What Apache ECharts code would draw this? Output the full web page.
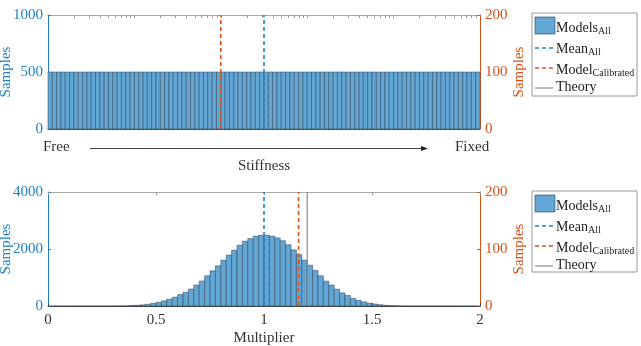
<!DOCTYPE html>
<html>
<head>
<meta charset="utf-8">
<script src="https://cdn.jsdelivr.net/npm/echarts@6/dist/echarts.min.js"></script>
<style>
  html, body {margin: 0; padding: 0; background: #fff;}
  #chart {width: 641px; height: 346px;}
</style>
</head>
<body>
<div id="chart"></div>
<script>
// top panel: 100 stiffness bins, uniform sampling
const stiffnessCounts = [
  500, 500, 500, 500, 500, 500, 500, 500, 500, 500,
  500, 500, 500, 500, 500, 500, 500, 500, 500, 500,
  500, 500, 500, 500, 500, 500, 500, 500, 500, 500,
  500, 500, 500, 500, 500, 500, 500, 500, 500, 500,
  500, 500, 500, 500, 500, 500, 500, 500, 500, 500,
  500, 500, 500, 500, 500, 500, 500, 500, 500, 500,
  500, 500, 500, 500, 500, 500, 500, 500, 500, 500,
  500, 500, 500, 500, 500, 500, 500, 500, 500, 500,
  500, 500, 500, 500, 500, 500, 500, 500, 500, 500,
  500, 500, 500, 500, 500, 500, 500, 500, 500, 500
];
const stiffnessMean = 50;
const stiffnessCalibrated = 40;
// log-spaced minor ticks along the top edge of the upper panel
const stiffnessTopTicks = [
  2, 3, 4, 5, 6, 7, 8, 9, 10,
  20, 30, 40, 50, 60, 70, 80, 90, 100,
  200, 300, 400, 500, 600, 700, 800, 900, 1000,
  2000, 3000, 4000, 5000, 6000, 7000, 8000, 9000, 10000,
  20000, 30000, 40000, 50000, 60000, 70000, 80000, 90000
];

// bottom panel: multiplier histogram, bins of 0.025 from 0 to 2
const multiplierBinWidth = 0.025;
const multiplierCounts = [
  0, 0, 0, 0, 0, 0, 0, 0, 0, 0,
  0, 0, 2, 4, 8, 15, 25, 40, 60, 90,
  130, 180, 240, 310, 400, 480, 595, 735, 875, 1060,
  1236, 1411, 1609, 1784, 1959, 2134, 2274, 2367, 2450, 2484,
  2484, 2450, 2390, 2290, 2150, 1970, 1800, 1610, 1430, 1250,
  1060, 870, 735, 590, 460, 370, 270, 200, 145, 100,
  70, 45, 25, 14, 7, 3, 1, 0, 0, 0,
  0, 0, 0, 0, 0, 0, 0, 0, 0, 0
];
const multiplierMean = 1.0;
const multiplierCalibrated = 1.16;
const multiplierTheory = 1.2;

const BLUE = '#1f7fc4';
const ORANGE = '#D95319';
const BAR_FILL = '#62a6d5';
const BAR_EDGE = '#2c3e50';
const FONT = 'Liberation Serif';

const chart = echarts.init(document.getElementById('chart'), null, {renderer: 'canvas'});

const histItem = (params, api) => {
  const a = api.coord([api.value(0), api.value(2)]);
  const b = api.coord([api.value(1), 0]);
  return {
    type: 'rect',
    shape: {x: a[0], y: a[1], width: b[0] - a[0], height: b[1] - a[1]},
    style: {fill: BAR_FILL, stroke: BAR_EDGE, lineWidth: 0.5}
  };
};

const vline = (x, top, color, dashed, xi, yi) => ({
  type: 'line',
  xAxisIndex: xi,
  yAxisIndex: yi,
  data: [[x, 0], [x, top]],
  symbol: 'none',
  silent: true,
  z: 5,
  lineStyle: {color, width: dashed ? 1.6 : 1.2, type: dashed ? [4, 3] : 'solid'}
});

const leftAxis = (grid, max, interval) => ({
  type: 'value', gridIndex: grid, position: 'left', min: 0, max, interval,
  name: 'Samples', nameLocation: 'middle', nameGap: 34, nameMoveOverlap: false,
  nameTextStyle: {color: BLUE, fontFamily: FONT, fontSize: 15},
  axisLine: {show: true, onZero: false, lineStyle: {color: BLUE}},
  axisTick: {show: true, inside: true, length: 3, lineStyle: {color: BLUE}},
  axisLabel: {color: BLUE, fontFamily: FONT, fontSize: 15, margin: 5, formatter: v => String(v)},
  splitLine: {show: false}
});

const rightAxis = (grid) => ({
  type: 'value', gridIndex: grid, position: 'right', min: 0, max: 200, interval: 100,
  name: 'Samples', nameLocation: 'middle', nameGap: 32, nameMoveOverlap: false,
  nameTextStyle: {color: ORANGE, fontFamily: FONT, fontSize: 15},
  axisLine: {show: true, onZero: false, lineStyle: {color: ORANGE}},
  axisTick: {show: true, inside: true, length: 3, lineStyle: {color: ORANGE}},
  axisLabel: {color: ORANGE, fontFamily: FONT, fontSize: 15, margin: 5, formatter: v => String(v)},
  splitLine: {show: false}
});

const legendGroup = (top, h) => {
  const x = 532;
  const txt = (dy, rich) => ({
    type: 'text', left: x + 24, top: top + dy,
    style: {
      text: rich,
      fontFamily: FONT,
      rich: {
        m: {fontFamily: FONT, fontSize: 14, lineHeight: 15, verticalAlign: 'top', fill: '#222'},
        s: {fontFamily: FONT, fontSize: 10, lineHeight: 10, padding: [10, 0, 0, 0], verticalAlign: 'bottom', fill: '#222'}
      }
    }
  });
  const seg = (cy, color, dash) => ({
    type: 'line', shape: {x1: x + 3, y1: top + cy, x2: x + 21, y2: top + cy},
    style: {stroke: color, lineWidth: dash ? 1.6 : 1.2, lineDash: dash ? [4, 3] : null}
  });
  return [
    {type: 'rect', shape: {x: x, y: top, width: 105, height: h},
      style: {fill: '#fff', stroke: '#9a9a9a', lineWidth: 1}},
    {type: 'rect', shape: {x: x + 3, y: top + 4, width: 20, height: 17},
      style: {fill: BAR_FILL, stroke: BAR_EDGE, lineWidth: 0.6}},
    txt(3, '{m|Models}{s|All}'),
    seg(35, BLUE, true),
    txt(24, '{m|Mean}{s|All}'),
    seg(55, ORANGE, true),
    txt(45, '{m|Model}{s|Calibrated}'),
    seg(75, '#8c8c8c', false),
    txt(67, '{m|Theory}')
  ];
};

chart.setOption({
  animation: false,
  textStyle: {fontFamily: FONT},
  grid: [
    {left: 48, top: 15, width: 432, height: 114, containLabel: false, outerBoundsMode: 'none'},
    {left: 48, top: 192, width: 432, height: 114, containLabel: false, outerBoundsMode: 'none'}
  ],
  xAxis: [
    {
      type: 'value', gridIndex: 0, min: 0, max: stiffnessCounts.length,
      name: 'Stiffness', nameLocation: 'middle', nameGap: 30, nameMoveOverlap: false,
      nameTextStyle: {color: '#333', fontFamily: FONT, fontSize: 15},
      axisLine: {show: true, onZero: false, lineStyle: {color: '#555'}},
      axisTick: {show: false}, axisLabel: {show: false}, splitLine: {show: false}
    },
    {
      type: 'log', gridIndex: 0, position: 'top', min: 1, max: 100000, logBase: 10,
      axisLine: {show: true, onZero: false, lineStyle: {color: '#aaa'}},
      axisTick: {show: true, inside: true, length: 3, customValues: stiffnessTopTicks, lineStyle: {color: '#999'}},
      axisLabel: {show: false}, splitLine: {show: false}
    },
    {
      type: 'value', gridIndex: 1, min: 0, max: 2, interval: 0.5,
      name: 'Multiplier', nameLocation: 'middle', nameGap: 25, nameMoveOverlap: false,
      nameTextStyle: {color: '#333', fontFamily: FONT, fontSize: 15},
      axisLine: {show: true, onZero: false, lineStyle: {color: '#444'}},
      axisTick: {show: true, inside: true, length: 3, lineStyle: {color: '#444'}},
      axisLabel: {color: '#333', fontFamily: FONT, fontSize: 15, margin: 7},
      splitLine: {show: false}
    },
    {
      type: 'value', gridIndex: 1, position: 'top', min: 0, max: 2, interval: 0.5,
      axisLine: {show: true, onZero: false, lineStyle: {color: '#aaa'}},
      axisTick: {show: true, inside: true, length: 3, lineStyle: {color: '#999'}},
      axisLabel: {show: false}, splitLine: {show: false}
    }
  ],
  yAxis: [
    leftAxis(0, 1000, 500),
    rightAxis(0),
    leftAxis(1, 4000, 2000),
    rightAxis(1)
  ],
  series: [
    {
      type: 'custom', xAxisIndex: 0, yAxisIndex: 0,
      renderItem: histItem, encode: {x: [0, 1], y: 2},
      data: stiffnessCounts.map((c, i) => [i, i + 1, c])
    },
    vline(stiffnessCalibrated, 1000, ORANGE, true, 0, 0),
    vline(stiffnessMean, 1000, BLUE, true, 0, 0),
    {
      type: 'custom', xAxisIndex: 2, yAxisIndex: 2,
      renderItem: histItem, encode: {x: [0, 1], y: 2},
      data: multiplierCounts.map((c, i) => [i * multiplierBinWidth, (i + 1) * multiplierBinWidth, c])
    },
    vline(multiplierMean, 4000, BLUE, true, 2, 2),
    vline(multiplierCalibrated, 4000, ORANGE, true, 2, 2),
    vline(multiplierTheory, 4000, '#8c8c8c', false, 2, 2)
  ],
  graphic: [
    {type: 'text', left: 43, top: 140, style: {text: 'Free', fontFamily: FONT, fontSize: 15, fill: '#333'}},
    {type: 'text', left: 455, top: 140, style: {text: 'Fixed', fontFamily: FONT, fontSize: 15, fill: '#333'}},
    {type: 'line', shape: {x1: 90, y1: 148.5, x2: 424, y2: 148.5}, style: {stroke: '#444', lineWidth: 1}},
    {type: 'polygon', shape: {points: [[428, 148.5], [421, 146], [421, 151]]}, style: {fill: '#222'}},
    ...legendGroup(13, 83),
    ...legendGroup(191, 81)
  ]
});
</script>
</body>
</html>
